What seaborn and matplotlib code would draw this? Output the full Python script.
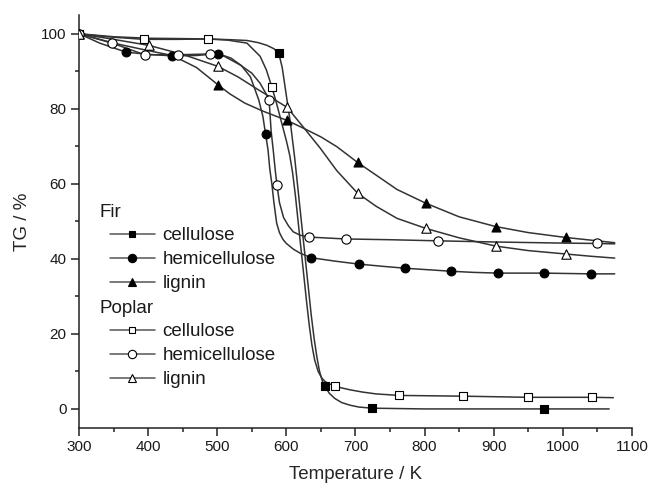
import numpy as np
import pandas as pd
import seaborn as sns
import matplotlib.pyplot as plt
from matplotlib.lines import Line2D
from matplotlib.ticker import MultipleLocator

# marker points (T in K, TG in %)
fir_cel_T = [300, 589, 656, 724, 973]
fir_cel_TG = [100, 94.8, 6.0, 0.2, 0.0]
fir_hemi_T = [300, 368, 435, 501, 570, 636, 705, 772, 838, 906, 973, 1040]
fir_hemi_TG = [100, 95.1, 94.1, 94.7, 73.2, 40.3, 38.6, 37.5, 36.7, 36.2, 36.2, 36.0]
fir_lig_T = [300, 501, 601, 703, 802, 903, 1004]
fir_lig_TG = [100, 86.4, 76.9, 65.7, 54.8, 48.6, 45.7]
pop_cel_T = [300, 394, 487, 579, 671, 763, 856, 949, 1042]
pop_cel_TG = [100, 98.5, 98.6, 85.8, 6.1, 3.6, 3.4, 3.1, 3.1]
pop_hemi_T = [300, 348, 395, 443, 489, 575, 586.5, 633, 686, 820, 1049]
pop_hemi_TG = [100, 97.5, 94.4, 94.4, 94.6, 82.4, 59.6, 45.8, 45.3, 44.8, 44.1]
pop_lig_T = [300, 401, 501, 601, 703, 802, 903, 1004]
pop_lig_TG = [100, 96.9, 91.3, 80.4, 57.5, 48.1, 43.4, 41.3]

# smooth curves
fir_cel_curve_T = [300, 350, 400, 450, 487, 520, 543, 560, 572, 582, 589, 594, 598, 602, 606, 609, 612,
                   616, 620, 624, 628, 632, 636, 640, 644, 648, 652, 656, 662, 670, 680, 692, 705, 724,
                   800, 900, 973, 1067]
fir_cel_curve_TG = [100, 99.2, 98.8, 98.7, 98.6, 98.4, 98.2, 97.6, 96.9, 96.0, 94.8, 91, 86, 81, 76, 71.5, 67,
                    60, 53, 46, 39, 32, 25, 19, 14, 10, 7.5, 6.0, 4.2, 2.8, 1.7, 1.0, 0.5, 0.2,
                    0, 0, 0, 0]
pop_cel_curve_T = [300, 340, 394, 440, 487, 515, 543, 562, 571, 579, 585, 590, 595, 600, 605, 609, 613,
                   617, 621, 625, 629, 633, 637, 641, 646, 651, 656, 662, 671, 680, 692, 710, 730, 763,
                   810, 856, 949, 1042, 1073]
pop_cel_curve_TG = [100, 99.2, 98.5, 98.5, 98.6, 98.3, 97.5, 94, 90.4, 85.8, 82, 78.5, 75, 71.5, 67.5, 63, 57,
                    50, 43, 36, 29, 22.5, 17, 13, 10, 8.3, 7.3, 6.7, 6.1, 5.6, 5.1, 4.5, 4.0, 3.6,
                    3.5, 3.4, 3.1, 3.1, 3.0]
fir_hemi_curve_T = [300, 330, 368, 400, 435, 470, 501, 520, 535, 548, 560, 566, 570, 573.5, 576, 579, 582,
                    586, 590, 595, 600, 610, 620, 636, 670, 705, 740, 772, 805, 838, 870, 906, 940, 973,
                    1040, 1075]
fir_hemi_curve_TG = [100, 97.5, 95.1, 94.5, 94.1, 94.2, 94.7, 93.5, 91.5, 88.5, 82.4, 78, 73.2, 69, 64, 60, 55,
                     49.5, 47, 45.2, 44.1, 42.6, 41.5, 40.3, 39.4, 38.6, 38.0, 37.5, 37.1, 36.7, 36.4, 36.2,
                     36.2, 36.2, 36.0, 36.0]
pop_hemi_curve_T = [300, 348, 395, 443, 489, 510, 533, 550, 562, 570, 575, 578, 581, 584, 586.5, 590, 596,
                    603, 610, 620, 633, 686, 750, 820, 900, 1000, 1049, 1075]
pop_hemi_curve_TG = [100, 97.5, 94.4, 94.4, 94.6, 94, 91.7, 89.5, 86.8, 84.2, 82.4, 74, 69, 63.5, 59.6, 55, 51,
                     48.8, 47.2, 46.3, 45.8, 45.3, 45.1, 44.8, 44.5, 44.2, 44.1, 44.0]
fir_lig_curve_T = [300, 350, 400, 435, 470, 501, 518, 540, 567, 601, 625, 650, 673, 703, 730, 760, 802,
                   850, 903, 950, 1004, 1040, 1075]
fir_lig_curve_TG = [100, 97.5, 95.5, 94.2, 91, 86.4, 84, 81.5, 79.3, 76.9, 74.8, 72.5, 69.9, 65.7, 62.3, 58.5,
                    54.8, 51.2, 48.6, 47.0, 45.7, 45.0, 44.3]
pop_lig_curve_T = [300, 350, 401, 450, 501, 530, 560, 601, 625, 649, 673, 703, 730, 760, 802, 850, 903,
                   950, 1004, 1040, 1075]
pop_lig_curve_TG = [100, 98.5, 96.9, 94.5, 91.3, 88.5, 85, 80.4, 75, 69.5, 63.5, 57.5, 54, 50.8, 48.1, 45.6,
                    43.4, 42.2, 41.3, 40.7, 40.2]

labels = ["cellulose", "hemicellulose", "lignin"]

sns.set_style("ticks")
plt.rcParams["font.family"] = ["Liberation Sans", "DejaVu Sans"]
plt.rcParams["text.color"] = "#1a1a1a"

line_c = "#333333"
fig = plt.figure(figsize=(6.5, 4.83), dpi=100)
ax = fig.add_axes([0.1215, 0.1145, 0.8508, 0.8545])

series = [
    (fir_cel_curve_T, fir_cel_curve_TG, fir_cel_T, fir_cel_TG, "s", "black", 30),
    (fir_hemi_curve_T, fir_hemi_curve_TG, fir_hemi_T, fir_hemi_TG, "o", "black", 40),
    (fir_lig_curve_T, fir_lig_curve_TG, fir_lig_T, fir_lig_TG, "^", "black", 42),
    (pop_cel_curve_T, pop_cel_curve_TG, pop_cel_T, pop_cel_TG, "s", "white", 34),
    (pop_hemi_curve_T, pop_hemi_curve_TG, pop_hemi_T, pop_hemi_TG, "o", "white", 44),
    (pop_lig_curve_T, pop_lig_curve_TG, pop_lig_T, pop_lig_TG, "^", "white", 46),
]

for cT, cTG, mT, mTG, mk, fc, s in series:
    curve = pd.DataFrame({"T": cT, "TG": cTG})
    sns.lineplot(data=curve, x="T", y="TG", sort=False, estimator=None, color=line_c,
                 lw=1.1, ax=ax, zorder=2)
for cT, cTG, mT, mTG, mk, fc, s in series:
    pts = pd.DataFrame({"T": mT, "TG": mTG})
    sns.scatterplot(data=pts, x="T", y="TG", marker=mk, s=s, color=fc, edgecolor="black",
                    linewidth=0.8, ax=ax, zorder=3)

ax.set_xlim(300, 1100)
ax.set_ylim(-5, 105)
ax.xaxis.set_major_locator(MultipleLocator(100))
ax.xaxis.set_minor_locator(MultipleLocator(50))
ax.yaxis.set_major_locator(MultipleLocator(20))
ax.yaxis.set_minor_locator(MultipleLocator(10))
ax.set_yticks([0, 20, 40, 60, 80, 100])
ax.tick_params(which="major", length=5.5, width=1.1, direction="out", labelsize=11, pad=3.5,
               color="#222222", labelcolor="#1a1a1a")
ax.tick_params(which="minor", length=3, width=1.1, direction="out", color="#222222")
sns.despine(ax=ax)
for sp in ["left", "bottom"]:
    ax.spines[sp].set_linewidth(1.1)
    ax.spines[sp].set_color("#222222")

ax.set_xlabel("Temperature / K", fontsize=13.5)
ax.set_ylabel("TG / %", fontsize=13.5)
ax.xaxis.set_label_coords(0.5, -0.094)
ax.yaxis.set_label_coords(-0.087, 0.5)


def make_handles(fc):
    return [Line2D([], [], color="#555555", lw=1.1, marker=m, markersize=ms,
                   markerfacecolor=fc, markeredgecolor="black", markeredgewidth=0.8)
            for m, ms in zip(["s", "o", "^"], [5, 6, 6])]


leg_kw = dict(loc="upper left", frameon=False, fontsize=13.5, title_fontsize=13.5,
              alignment="left", handlelength=2.4, handletextpad=0.4, labelspacing=0.36,
              borderpad=0, borderaxespad=0)
leg1 = ax.legend(make_handles("black"), labels, title="Fir", bbox_to_anchor=(0.056, 0.543), **leg_kw)
leg1.get_title().set_position((-10, 0))
ax.add_artist(leg1)
leg2 = ax.legend(make_handles("white"), labels, title="Poplar", bbox_to_anchor=(0.056, 0.3104), **leg_kw)
leg2.get_title().set_position((-10, 0))

fig.savefig("out.png", dpi=100)
